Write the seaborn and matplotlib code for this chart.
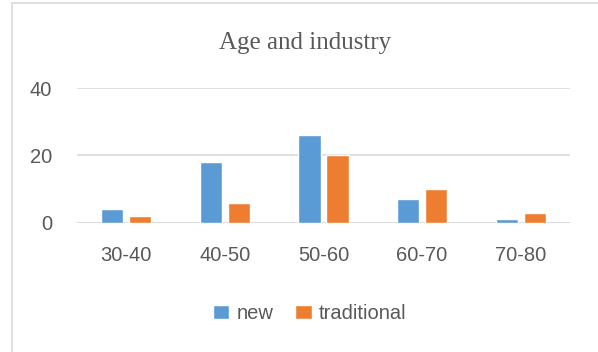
import matplotlib
matplotlib.use("Agg")
import matplotlib.pyplot as plt
import matplotlib.patches as patches
import pandas as pd
import seaborn as sns

# data
age_groups = ["30-40", "40-50", "50-60", "60-70", "70-80"]
new_vals = [4, 18, 26, 7, 1]
traditional_vals = [2, 6, 20, 10, 3]
series_names = ["new", "traditional"]
colors = ["#5B9BD5", "#ED7D31"]

df = pd.DataFrame({
    "age": age_groups * 2,
    "value": new_vals + traditional_vals,
    "type": [series_names[0]] * len(age_groups) + [series_names[1]] * len(age_groups),
})

sns.set_style("white")
plt.rcParams['font.family'] = ['Liberation Sans', 'DejaVu Sans']

fig = plt.figure(figsize=(5.98, 3.52), dpi=100)
ax = fig.add_axes([0.1288, 0.367, 0.8244, 0.383])

sns.barplot(data=df, x="age", y="value", hue="type", palette=colors,
            width=0.57, gap=0.21, saturation=1, ax=ax, legend=True)

ax.set_ylim(0, 40)
ax.set_yticks([0, 20, 40])
ax.yaxis.grid(True, color="#D9D9D9", linewidth=1.2)
ax.set_axisbelow(True)
for s in ax.spines.values():
    s.set_visible(False)
ax.axhline(0, color="#D9D9D9", linewidth=1.2, zorder=0)
ax.set_xlabel("")
ax.set_ylabel("")
ax.tick_params(axis="both", length=0, labelsize=14.5, colors="#595959")
ax.tick_params(axis="x", pad=17)
ax.tick_params(axis="y", pad=18)

fig.text(0.5096, 0.878, "Age and industry", ha="center", va="center",
         fontsize=18, color="#595959", family=["Liberation Serif"])

handles, labels = ax.get_legend_handles_labels()
ax.legend_.remove()
fig.legend(handles, labels, loc="center", bbox_to_anchor=(0.518, 0.109), ncol=2,
           frameon=False, fontsize=14.5, handlelength=0.8, handleheight=0.75,
           columnspacing=1.1, handletextpad=0.35, labelcolor="#595959")

fig.patches.append(patches.Rectangle((12 / 598, -0.05), 1.0, 1.05 - 3 / 352,
                                     transform=fig.transFigure, fill=False,
                                     edgecolor="#D9D9D9", linewidth=1.2))

fig.savefig("out.png", dpi=100)
